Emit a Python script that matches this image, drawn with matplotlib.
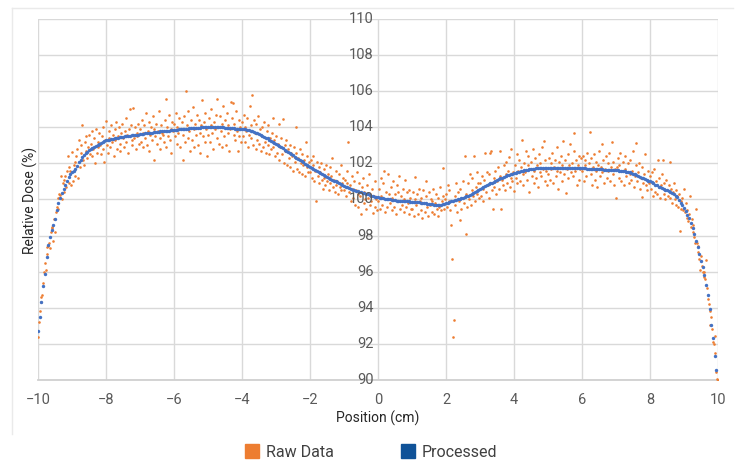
import numpy as np
import matplotlib
matplotlib.use('Agg')
import matplotlib.pyplot as plt
from matplotlib.lines import Line2D

plt.rcParams['font.family'] = ['Roboto', 'DejaVu Sans']

# processed profile, one value every 0.05 cm from -10 to 10
proc_x = np.round(np.arange(-10, 10.0001, 0.05), 3)
proc_y = [
    92.7, 93.5, 94.3, 95.2, 95.9, 96.8, 97.5, 97.9, 98.3, 98.6, 98.9, 99.4, 99.8, 100.1, 100.35, 100.6, 100.8, 101.05, 101.25, 101.4,
    101.5, 101.58, 101.68, 101.85, 102.05, 102.2, 102.35, 102.45, 102.55, 102.65, 102.72, 102.8, 102.87, 102.93, 102.98, 103.03, 103.08, 103.12, 103.17, 103.22,
    103.27, 103.3, 103.32, 103.34, 103.36, 103.38, 103.4, 103.42, 103.44, 103.46, 103.48, 103.5, 103.52, 103.53, 103.54, 103.56, 103.57, 103.58, 103.59, 103.6,
    103.62, 103.63, 103.65, 103.66, 103.67, 103.68, 103.7, 103.71, 103.72, 103.73, 103.74, 103.76, 103.77, 103.78, 103.79, 103.8, 103.81, 103.82, 103.83, 103.84,
    103.85, 103.86, 103.87, 103.88, 103.89, 103.9, 103.91, 103.92, 103.93, 103.94, 103.95, 103.96, 103.97, 103.97, 103.98, 103.98, 103.99, 103.99, 104.0, 104.0,
    104.0, 104.01, 104.01, 104.01, 104.01, 104.0, 104.0, 104.0, 103.99, 103.99, 103.98, 103.97, 103.96, 103.95, 103.95, 103.94, 103.93, 103.93, 103.92, 103.92,
    103.91, 103.9, 103.88, 103.86, 103.83, 103.8, 103.77, 103.74, 103.7, 103.67, 103.63, 103.58, 103.53, 103.48, 103.43, 103.38, 103.32, 103.26, 103.2, 103.15,
    103.09, 103.03, 102.97, 102.9, 102.84, 102.77, 102.71, 102.64, 102.58, 102.51, 102.45, 102.38, 102.32, 102.25, 102.18, 102.12, 102.05, 101.98, 101.92, 101.86,
    101.8, 101.74, 101.68, 101.62, 101.56, 101.5, 101.45, 101.4, 101.35, 101.3, 101.25, 101.2, 101.15, 101.1, 101.05, 101.0, 100.95, 100.9, 100.85, 100.8,
    100.75, 100.71, 100.67, 100.63, 100.59, 100.55, 100.52, 100.49, 100.46, 100.43, 100.4, 100.37, 100.34, 100.31, 100.28, 100.25, 100.22, 100.19, 100.16, 100.14,
    100.12, 100.1, 100.08, 100.06, 100.04, 100.03, 100.01, 100.0, 99.98, 99.97, 99.95, 99.94, 99.93, 99.92, 99.91, 99.9, 99.9, 99.89, 99.89, 99.88,
    99.88, 99.87, 99.86, 99.85, 99.84, 99.83, 99.81, 99.8, 99.78, 99.77, 99.75, 99.74, 99.73, 99.72, 99.71, 99.7, 99.71, 99.72, 99.74, 99.77,
    99.8, 99.83, 99.86, 99.89, 99.92, 99.95, 99.98, 100.01, 100.04, 100.07, 100.1, 100.14, 100.18, 100.22, 100.27, 100.31, 100.36, 100.41, 100.46, 100.51,
    100.56, 100.62, 100.67, 100.73, 100.78, 100.84, 100.89, 100.94, 100.99, 101.04, 101.09, 101.13, 101.17, 101.21, 101.25, 101.29, 101.33, 101.36, 101.39, 101.42,
    101.45, 101.48, 101.51, 101.54, 101.57, 101.59, 101.62, 101.64, 101.66, 101.68, 101.69, 101.7, 101.71, 101.72, 101.72, 101.73, 101.73, 101.74, 101.74, 101.74,
    101.75, 101.75, 101.76, 101.76, 101.77, 101.77, 101.77, 101.77, 101.77, 101.76, 101.76, 101.76, 101.75, 101.75, 101.75, 101.74, 101.74, 101.74, 101.73, 101.73,
    101.73, 101.72, 101.72, 101.71, 101.71, 101.7, 101.7, 101.69, 101.69, 101.68, 101.68, 101.67, 101.67, 101.66, 101.66, 101.65, 101.65, 101.64, 101.64, 101.63,
    101.63, 101.62, 101.6, 101.59, 101.57, 101.56, 101.54, 101.52, 101.5, 101.47, 101.43, 101.39, 101.35, 101.3, 101.26, 101.21, 101.17, 101.13, 101.09, 101.05,
    101.0, 100.95, 100.89, 100.83, 100.78, 100.72, 100.67, 100.62, 100.57, 100.53, 100.5, 100.46, 100.41, 100.35, 100.29, 100.22, 100.13, 99.98, 99.82, 99.68,
    99.53, 99.35, 99.15, 98.95, 98.7, 98.42, 98.1, 97.72, 97.35, 96.98, 96.62, 96.25, 95.8, 95.25, 94.7, 93.95, 93.05, 92.3, 91.35, 90.55,
    89.7,
]

# raw readings, one every 0.025 cm from -10 to 10
raw_x = np.round(np.arange(-10, 10.0001, 0.025), 3)
raw_y = [
    92.4, 93.2, 93.8, 94.3, 94.6, 94.7, 95.4, 96.0, 96.5, 96.1, 97.35, 97.0, 97.4, 97.6, 97.3, 98.2, 98.4, 98.5, 97.7, 98.9,
    98.2, 99.3, 99.6, 100.06, 99.5, 100.3, 100.25, 101.3, 100.0, 100.9, 101.1, 100.4, 101.3, 100.7, 101.6, 102.4, 100.9, 101.8, 101.6, 100.8,
    102.65, 101.0, 101.9, 102.1, 101.3, 102.4, 102.8, 101.2, 103.3, 101.8, 102.6, 103.0, 104.1, 102.2, 101.9, 103.2, 102.7, 103.5, 102.3, 102.9,
    103.6, 102.5, 103.1, 102.4, 103.8, 102.8, 103.4, 102.0, 103.9, 102.6, 103.2, 102.9, 103.7, 103.0, 102.5, 103.5, 102.8, 104.0, 102.05, 103.3,
    104.36, 103.0, 102.6, 103.8, 103.4, 102.9, 104.1, 103.2, 103.6, 102.4, 103.9, 103.3, 104.3, 102.8, 103.5, 104.0, 103.1, 102.7, 103.7, 104.2,
    103.4, 102.9, 103.8, 103.2, 104.5, 103.6, 102.6, 103.9, 105.0, 104.1, 103.0, 103.3, 105.07, 103.4, 104.0, 102.8, 103.7, 103.5, 104.2, 103.1,
    103.9, 103.2, 104.4, 102.9, 103.7, 104.1, 103.4, 104.8, 103.0, 103.8, 104.3, 102.7, 103.6, 104.0, 103.3, 104.6, 103.9, 102.2, 103.5, 104.2,
    103.1, 103.8, 104.9, 103.4, 102.8, 104.1, 103.7, 103.6, 103.2, 104.4, 105.57, 102.9, 104.0, 103.5, 104.7, 103.3, 103.9, 102.6, 104.3, 103.8,
    104.2, 103.5, 104.8, 103.1, 104.0, 103.7, 104.5, 102.9, 103.9, 104.3, 102.2, 103.6, 104.6, 103.2, 106.0, 104.1, 103.4, 104.9, 103.8, 102.7,
    104.4, 103.3, 105.1, 103.9, 102.9, 104.2, 103.6, 104.7, 103.0, 104.4, 103.7, 102.6, 104.1, 105.5, 103.5, 104.3, 103.2, 104.8, 103.9, 102.4,
    103.6, 104.5, 103.2, 104.1, 105.0, 103.7, 102.8, 104.3, 103.9, 104.7, 103.4, 105.57, 104.0, 103.1, 104.6, 103.8, 102.9, 104.2, 105.2, 103.5,
    104.4, 103.0, 104.8, 103.7, 104.1, 102.7, 103.9, 105.4, 104.5, 105.36, 103.6, 104.2, 103.3, 104.9, 103.8, 102.7, 104.4, 103.5, 104.0, 103.2,
    104.3, 103.5, 104.7, 103.2, 104.0, 103.8, 104.5, 102.9, 103.6, 105.2, 104.1, 103.4, 105.8, 103.0, 104.4, 103.7, 102.8, 104.2, 103.3, 104.6,
    103.1, 103.9, 102.7, 104.0, 103.5, 102.9, 104.3, 103.2, 102.6, 103.8, 103.0, 104.1, 102.5, 103.4, 102.8, 103.7, 104.5, 102.9, 103.3, 102.4,
    103.5, 102.6, 103.1, 102.2, 104.2, 102.9, 103.4, 102.5, 104.44, 102.0, 103.0, 102.7, 103.3, 101.9, 102.8, 102.3, 103.0, 101.8, 102.6, 102.4,
    101.6, 102.9, 102.1, 102.6, 104.04, 101.7, 102.3, 101.5, 102.8, 102.0, 101.4, 102.5, 101.9, 102.2, 101.3, 103.2, 101.8, 102.4, 101.5, 102.1,
    101.5, 102.2, 101.2, 101.9, 102.4, 101.0, 101.6, 99.9, 102.1, 101.3, 101.8, 100.9, 101.5, 102.0, 101.1, 100.6, 101.7, 101.2, 100.8, 101.9,
    101.0, 101.4, 100.5, 101.8, 100.9, 101.3, 102.3, 100.7, 101.1, 100.4, 101.6, 100.8, 101.0, 100.3, 101.4, 100.7, 101.9, 100.5, 100.9, 101.2,
    100.5, 101.1, 100.2, 100.9, 101.6, 103.2, 100.4, 100.8, 99.9, 101.3, 100.6, 100.1, 101.0, 99.7, 100.5, 101.5, 100.3, 99.6, 100.9, 100.2,
    99.2, 100.7, 101.2, 99.8, 100.4, 100.0, 99.5, 100.8, 100.1, 101.4, 99.7, 100.3, 99.9, 100.6, 99.27, 100.2, 99.6, 101.0, 100.0, 99.4,
    99.9, 100.6, 99.5, 101.2, 100.2, 99.7, 100.9, 101.6, 99.3, 100.4, 100.0, 99.6, 101.4, 100.3, 99.8, 100.7, 99.4, 100.1, 101.0, 99.6,
    100.3, 99.2, 100.8, 99.9, 100.4, 101.3, 99.5, 100.2, 99.7, 100.6, 99.3, 100.0, 101.1, 99.6, 100.4, 99.8, 99.2, 100.5, 100.1, 99.5,
    99.5, 100.4, 99.1, 100.0, 101.26, 99.7, 100.3, 99.2, 100.6, 99.9, 99.4, 100.1, 99.0, 100.5, 99.8, 99.3, 100.2, 101.0, 99.6, 99.1,
    100.4, 99.7, 100.0, 99.3, 99.9, 100.6, 99.2, 99.8, 100.3, 99.5, 99.1, 100.1, 99.6, 100.7, 99.4, 99.9, 100.2, 101.73, 99.5, 100.0,
    100.3, 99.6, 100.8, 99.9, 100.5, 99.4, 98.6, 96.7, 92.4, 93.3, 100.2, 99.7, 100.9, 99.3, 100.4, 99.9, 98.86, 100.6, 99.5, 100.1,
    101.0, 99.8, 102.43, 98.1, 100.3, 99.6, 100.9, 100.0, 101.4, 99.7, 100.5, 101.2, 100.2, 102.4, 99.9, 100.7, 101.5, 100.3, 100.9, 100.1,
    100.9, 100.2, 101.3, 100.6, 99.9, 101.1, 102.6, 100.4, 101.5, 100.8, 100.1, 101.4, 102.55, 102.7, 100.5, 99.45, 101.2, 100.7, 101.6, 100.3,
    101.0, 101.8, 100.6, 101.3, 102.7, 99.45, 101.1, 100.8, 101.9, 100.5, 101.4, 102.1, 100.9, 101.6, 102.37, 100.7, 101.2, 102.8, 101.0, 101.5,
    100.49, 101.9, 101.2, 102.5, 100.9, 101.6, 102.2, 101.0, 101.8, 103.3, 101.4, 100.8, 102.0, 101.5, 102.7, 101.1, 101.9, 102.4, 100.43, 101.7,
    102.1, 101.3, 102.8, 100.9, 101.6, 102.3, 101.2, 101.9, 100.7, 102.5, 101.5, 102.0, 101.3, 102.9, 101.7, 103.24, 101.0, 102.2, 101.6, 100.8,
    101.4, 102.3, 101.1, 102.0, 101.7, 102.6, 100.9, 101.8, 102.2, 101.3, 102.9, 101.6, 100.6, 102.1, 101.5, 102.4, 101.0, 101.9, 103.26, 101.4,
    102.2, 100.37, 101.7, 102.5, 101.2, 101.9, 103.1, 101.5, 102.0, 101.3, 102.7, 103.67, 101.6, 102.2, 100.8, 101.9, 102.4, 101.1, 101.7, 102.3,
    101.6, 102.4, 101.0, 101.9, 102.2, 101.3, 102.6, 101.7, 102.0, 103.76, 101.4, 102.3, 100.8, 101.8, 102.5, 101.1, 101.6, 102.1, 100.7, 101.9,
    102.7, 101.3, 101.8, 103.05, 101.5, 102.2, 100.9, 101.7, 102.4, 101.2, 102.0, 101.6, 102.6, 101.0, 101.8, 103.2, 101.4, 102.1, 100.8, 101.7,
    100.06, 101.8, 102.3, 101.2, 101.9, 102.6, 101.0, 101.6, 102.1, 100.8, 101.7, 102.4, 101.3, 101.5, 102.0, 100.9, 101.4, 102.2, 101.1, 101.6,
    102.7, 100.7, 101.3, 101.9, 103.15, 101.0, 101.5, 102.0, 100.6, 101.2, 100.16, 101.8, 100.9, 101.4, 102.5, 100.8, 101.1, 100.5, 101.6, 100.9,
    101.3, 100.6, 101.5, 100.2, 100.9, 101.7, 100.4, 101.0, 100.3, 102.19, 100.7, 101.2, 100.1, 100.8, 101.4, 102.19, 100.3, 100.9, 100.0, 101.1,
    100.5, 100.2, 100.8, 102.06, 100.1, 100.6, 99.8, 100.4, 100.9, 100.0, 99.7, 100.5, 100.2, 99.6, 100.3, 98.25, 99.9, 99.5, 100.1, 99.4,
    100.6, 99.3, 99.8, 99.0, 99.4, 98.8, 99.2, 100.2, 98.5, 98.9, 98.2, 98.6, 97.9, 97.57, 99.5, 97.57, 97.1, 97.4, 96.7, 96.1,
    96.87, 96.3, 96.0, 95.7, 96.0, 95.6, 96.65, 95.08, 94.5, 94.2, 93.05, 93.8, 93.5, 92.8, 92.1, 92.0, 91.5, 92.45, 90.45, 90.05,
    90.0,
]

x_ticks = [-10, -8, -6, -4, -2, 0, 2, 4, 6, 8, 10]
y_ticks = [90, 92, 94, 96, 98, 100, 102, 104, 106, 108, 110]

orange = '#ED7D31'
blue = '#4472C4'
legend_blue = '#0F5298'
txt = '#595959'

fig = plt.figure(figsize=(7.42, 4.61), dpi=100)
ax = fig.add_axes([38/742, 1-380/461, 680/742, 361/461])

ax.scatter(raw_x, raw_y, s=3.5, color=orange, linewidths=0, zorder=3)
ax.scatter(proc_x, proc_y, s=6, color=blue, linewidths=0, zorder=4)

ax.set_xlim(-10, 10)
ax.set_ylim(90, 110)
ax.set_xticks(x_ticks)
ax.set_yticks(y_ticks)
ax.set_yticklabels([])
ax.grid(True, color='#D9D9D9', lw=1)
ax.set_axisbelow(True)

for s in ['top', 'right', 'left']:
    ax.spines[s].set_visible(False)
ax.spines['bottom'].set_color('#D0D0D0')
ax.spines['bottom'].set_linewidth(1.3)

ax.tick_params(axis='y', length=0)
ax.tick_params(axis='x', length=0, pad=9, labelsize=10.5, labelcolor=txt)

# y labels sit beside the x=0 line, on top of the points
for v in y_ticks:
    ax.text(-0.12, v, str(v), ha='right', va='center', fontsize=10.5,
            color=txt, zorder=6, clip_on=False)

ax.set_xlabel('Position (cm)', fontsize=10, color='#262626', labelpad=3)
fig.text(30/742, 1-200/461, 'Relative Dose (%)', rotation=90, fontsize=10,
         color='#262626', ha='center', va='center')

# light frame lines along the top and left
fig.add_artist(Line2D([12/742, 733/742], [1-8/461, 1-8/461], color='#EAEAEA', lw=1))
fig.add_artist(Line2D([12/742, 12/742], [1-8/461, 1-434/461], color='#EAEAEA', lw=1))

handles = [Line2D([], [], marker='s', ls='none', color=orange, markersize=10.5),
           Line2D([], [], marker='s', ls='none', color=legend_blue, markersize=10.5)]
fig.legend(handles, ['Raw Data', 'Processed'], loc='center', bbox_to_anchor=(0.5, 1-452/461),
           ncol=2, frameon=False, fontsize=11.5, labelcolor='#404040',
           handletextpad=0.4, columnspacing=4.2, handlelength=0.9)

fig.savefig('out.png', dpi=100)
